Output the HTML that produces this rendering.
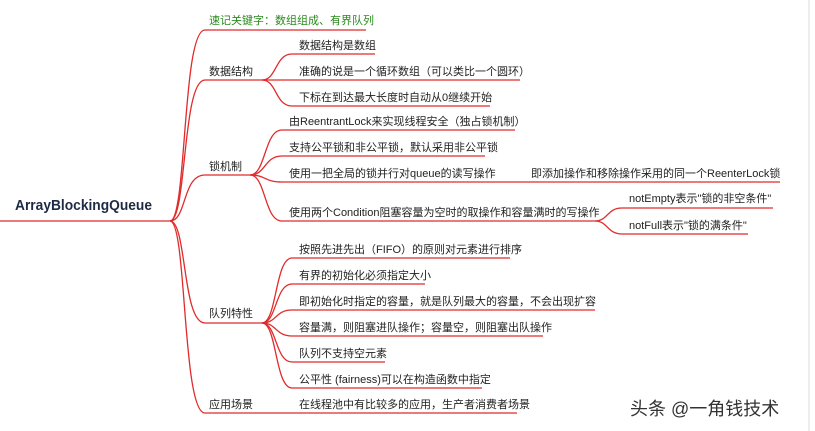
<!DOCTYPE html>
<html><head><meta charset="utf-8"><style>
html,body{margin:0;padding:0;background:#fff;}
svg{display:block}
text{font-family:"Liberation Sans","Noto Sans CJK SC",sans-serif;font-size:11px;fill:#222;}
</style></head><body>
<svg width="815" height="431" viewBox="0 0 815 431" xmlns="http://www.w3.org/2000/svg">
<rect x="0" y="0" width="815" height="431" fill="#fff"/>
<line x1="809" y1="0" x2="809" y2="431" stroke="#eee" stroke-width="2"/>
<g fill="none" stroke="#e02b2b" stroke-width="1.3">
<path d="M0 221 L170 221"/>
<path d="M170 221 C187 221 182 30 205 30 L366 30"/>
<path d="M170 221 C187 221 182 80 205 80 L262 80"/>
<path d="M170 221 C187 221 182 175 205 175 L250 175"/>
<path d="M170 221 C187 221 182 323 205 323 L262 323"/>
<path d="M170 221 C187 221 182 413 205 413 L517 413"/>
<path d="M262 80 C277 80 275 54 292 54 L375 54"/>
<path d="M262 80 L520 80"/>
<path d="M262 80 C277 80 275 106 292 106 L490 106"/>
<path d="M250 175 C266 175 264 130 282 130 L515 130"/>
<path d="M250 175 C266 175 264 156 282 156 L485 156"/>
<path d="M250 175 C266 175 264 182 282 182 L780 182"/>
<path d="M250 175 C266 175 264 221 282 221 L595 221"/>
<path d="M595 221 C608 221 607 208 622 208 L773 208"/>
<path d="M595 221 C608 221 607 234 622 234 L748 234"/>
<path d="M262 323 C277 323 275 258 292 258 L510 258"/>
<path d="M262 323 C277 323 275 284 292 284 L425 284"/>
<path d="M262 323 C277 323 275 310 292 310 L595 310"/>
<path d="M262 323 C277 323 275 336 292 336 L543 336"/>
<path d="M262 323 C277 323 275 362 292 362 L385 362"/>
<path d="M262 323 C277 323 275 388 292 388 L482 388"/>
</g>
<text x="15" y="210" textLength="137" lengthAdjust="spacingAndGlyphs" style="font-size:14.5px;font-weight:bold;fill:#1f2a44">ArrayBlockingQueue</text>
<text x="209" y="24" style="fill:#2a8a1e">速记关键字：数组组成、有界队列</text>
<text x="209" y="75">数据结构</text>
<text x="209" y="170">锁机制</text>
<text x="209" y="317">队列特性</text>
<text x="209" y="408">应用场景</text>
<text x="299" y="49">数据结构是数组</text>
<text x="299" y="75">准确的说是一个循环数组（可以类比一个圆环）</text>
<text x="299" y="101">下标在到达最大长度时自动从0继续开始</text>
<text x="289" y="125">由ReentrantLock来实现线程安全（独占锁机制）</text>
<text x="289" y="151">支持公平锁和非公平锁，默认采用非公平锁</text>
<text x="289" y="177">使用一把全局的锁并行对queue的读写操作</text>
<text x="531" y="177">即添加操作和移除操作采用的同一个ReenterLock锁</text>
<text x="289" y="216">使用两个Condition阻塞容量为空时的取操作和容量满时的写操作</text>
<text x="629" y="202">notEmpty表示"锁的非空条件"</text>
<text x="629" y="229">notFull表示"锁的满条件"</text>
<text x="299" y="253">按照先进先出（FIFO）的原则对元素进行排序</text>
<text x="299" y="279">有界的初始化必须指定大小</text>
<text x="299" y="305">即初始化时指定的容量，就是队列最大的容量，不会出现扩容</text>
<text x="299" y="331">容量满，则阻塞进队操作；容量空，则阻塞出队操作</text>
<text x="299" y="357">队列不支持空元素</text>
<text x="299" y="383">公平性 (fairness)可以在构造函数中指定</text>
<text x="299" y="408">在线程池中有比较多的应用，生产者消费者场景</text>
<text x="630" y="415" style="font-size:18px;fill:#333">头条 @一角钱技术</text>
</svg>
</body></html>
